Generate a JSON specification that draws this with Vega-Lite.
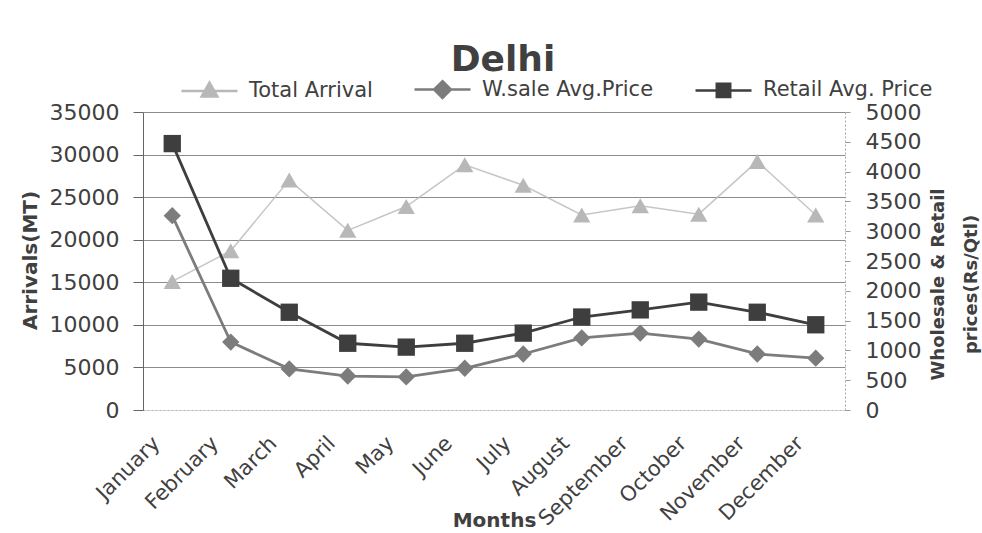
{
  "$schema": "https://vega.github.io/schema/vega-lite/v6.json",
  "width": 702,
  "height": 298,
  "autosize": {"type": "none"},
  "padding": {"left": 143, "top": 112, "right": 137, "bottom": 123},
  "background": "white",
  "config": {"font": "DejaVu Sans", "view": {"stroke": null}},
  "title": {"text": "Delhi", "font": "DejaVu Sans", "fontWeight": "bold", "fontSize": 36, "color": "#404040", "anchor": "middle", "offset": 18, "dx": 9, "dy": 37},
  "data": {"values": [
    {"month": "January", "series": "Total Arrival", "value": 15100},
    {"month": "February", "series": "Total Arrival", "value": 18700},
    {"month": "March", "series": "Total Arrival", "value": 27000},
    {"month": "April", "series": "Total Arrival", "value": 21100},
    {"month": "May", "series": "Total Arrival", "value": 23900},
    {"month": "June", "series": "Total Arrival", "value": 28800},
    {"month": "July", "series": "Total Arrival", "value": 26400},
    {"month": "August", "series": "Total Arrival", "value": 22900},
    {"month": "September", "series": "Total Arrival", "value": 24000},
    {"month": "October", "series": "Total Arrival", "value": 23000},
    {"month": "November", "series": "Total Arrival", "value": 29200},
    {"month": "December", "series": "Total Arrival", "value": 22900},
    {"month": "January", "series": "W.sale Avg.Price", "value": 3260},
    {"month": "February", "series": "W.sale Avg.Price", "value": 1140},
    {"month": "March", "series": "W.sale Avg.Price", "value": 690},
    {"month": "April", "series": "W.sale Avg.Price", "value": 570},
    {"month": "May", "series": "W.sale Avg.Price", "value": 555},
    {"month": "June", "series": "W.sale Avg.Price", "value": 700},
    {"month": "July", "series": "W.sale Avg.Price", "value": 940},
    {"month": "August", "series": "W.sale Avg.Price", "value": 1210},
    {"month": "September", "series": "W.sale Avg.Price", "value": 1290},
    {"month": "October", "series": "W.sale Avg.Price", "value": 1190},
    {"month": "November", "series": "W.sale Avg.Price", "value": 940},
    {"month": "December", "series": "W.sale Avg.Price", "value": 870},
    {"month": "January", "series": "Retail Avg. Price", "value": 4470},
    {"month": "February", "series": "Retail Avg. Price", "value": 2210},
    {"month": "March", "series": "Retail Avg. Price", "value": 1640},
    {"month": "April", "series": "Retail Avg. Price", "value": 1120},
    {"month": "May", "series": "Retail Avg. Price", "value": 1055},
    {"month": "June", "series": "Retail Avg. Price", "value": 1120},
    {"month": "July", "series": "Retail Avg. Price", "value": 1290},
    {"month": "August", "series": "Retail Avg. Price", "value": 1560},
    {"month": "September", "series": "Retail Avg. Price", "value": 1680},
    {"month": "October", "series": "Retail Avg. Price", "value": 1810},
    {"month": "November", "series": "Retail Avg. Price", "value": 1640},
    {"month": "December", "series": "Retail Avg. Price", "value": 1430}
  ]},
  "encoding": {
    "x": {
      "field": "month", "type": "ordinal",
      "scale": {"type": "point", "padding": 0.5, "domain": ["January","February","March","April","May","June","July","August","September","October","November","December"]},
      "axis": {
        "title": "Months", "titleFont": "DejaVu Sans", "titleFontWeight": "bold", "titleFontSize": 20, "titleColor": "#404040",
        "titleY": 116, "titleBaseline": "alphabetic",
        "labelAngle": -45, "labelAlign": "right", "labelBaseline": "middle", "labelPadding": 30, "labelOffset": -16,
        "labelFont": "DejaVu Sans", "labelFontSize": 21, "labelColor": "#404040",
        "ticks": false, "domainColor": "#bbbbbb", "domainDash": [2, 2], "grid": false
      }
    },
    "color": {
      "field": "series", "type": "nominal",
      "scale": {"domain": ["Total Arrival", "W.sale Avg.Price", "Retail Avg. Price"], "range": ["#b8b8b8", "#7c7c7c", "#3e3e3e"]},
      "legend": {
        "title": null, "orient": "none", "direction": "horizontal", "legendX": 37, "legendY": -52,
        "labelFont": "DejaVu Sans", "labelFontSize": 21, "labelColor": "#404040", "labelLimit": 400,
        "symbolSize": 3136, "symbolStrokeWidth": 2.5, "labelOffset": 10, "columnPadding": 36, "padding": 0,
        "symbolType": "M-1,0L1,0M-0.24,-0.24L0.24,-0.24L0.24,0.24L-0.24,0.24Z",
        "encode": {"symbols": {"update": {
          "shape": {"signal": "datum.value === 'Total Arrival' ? 'M-1,0L1,0M0,-0.3L0.28,0.2L-0.28,0.2Z' : datum.value === 'W.sale Avg.Price' ? 'M-1,0L1,0M0,-0.3L0.3,0L0,0.3L-0.3,0Z' : 'M-1,0L1,0M-0.24,-0.24L0.24,-0.24L0.24,0.24L-0.24,0.24Z'"}
        }}}
      }
    }
  },
  "layer": [
    {
      "transform": [{"filter": "datum.series === 'Total Arrival'"}],
      "encoding": {
        "y": {
          "field": "value", "type": "quantitative",
          "scale": {"domain": [0, 35000]},
          "axis": {
            "orient": "left", "values": [0,5000,10000,15000,20000,25000,30000,35000], "format": "d",
            "labelFont": "DejaVu Sans", "labelFontSize": 22, "labelColor": "#404040", "labelPadding": 14,
            "tickSize": 10, "tickColor": "#666666", "domainColor": "#666666",
            "grid": true, "gridColor": {"condition": {"test": "datum.value === 0", "value": "#dddddd"}, "value": "#8c8c8c"},
            "title": "Arrivals(MT)", "titleFont": "DejaVu Sans", "titleFontWeight": "bold", "titleFontSize": 20, "titleColor": "#404040",
            "titleAngle": 270, "titleX": -107, "titleY": 148, "titleBaseline": "alphabetic", "titleAlign": "center"
          }
        }
      },
      "layer": [
        {"mark": {"type": "line", "strokeWidth": 1.5, "opacity": 0.8}},
        {"mark": {"type": "point", "filled": true, "size": 300, "opacity": 1, "shape": "triangle-up"}}
      ]
    },
    {
      "transform": [{"filter": "datum.series !== 'Total Arrival'"}],
      "encoding": {
        "y": {
          "field": "value", "type": "quantitative",
          "scale": {"domain": [0, 5000]},
          "axis": {
            "orient": "right", "values": [0,500,1000,1500,2000,2500,3000,3500,4000,4500,5000], "format": "d",
            "labelFont": "DejaVu Sans", "labelFontSize": 22, "labelColor": "#404040", "labelPadding": 15,
            "tickSize": 5, "tickColor": "#999999", "domainColor": "#aaaaaa", "domainDash": [2, 2], "grid": false,
            "title": ["Wholesale & Retail", "prices(Rs/Qtl)"], "titleFont": "DejaVu Sans", "titleFontWeight": "bold", "titleFontSize": 18, "titleColor": "#404040",
            "titleLineHeight": 33, "titleAngle": 270, "titleX": 98, "titleY": 172, "titleBaseline": "alphabetic", "titleAlign": "center"
          }
        }
      },
      "layer": [
        {"mark": {"type": "line", "strokeWidth": 2.8}},
        {
          "mark": {"type": "point", "filled": true, "size": 300, "opacity": 1},
          "encoding": {
            "shape": {"field": "series", "type": "nominal", "scale": {"domain": ["W.sale Avg.Price", "Retail Avg. Price"], "range": ["diamond", "square"]}, "legend": null}
          }
        }
      ]
    }
  ],
  "resolve": {"scale": {"y": "independent"}}
}
